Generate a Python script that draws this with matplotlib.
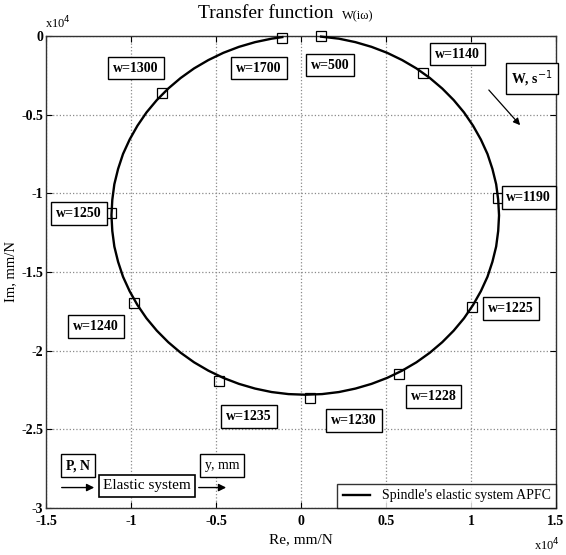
import matplotlib
matplotlib.use("Agg")
import matplotlib.pyplot as plt

plt.rcParams['font.family'] = ['Liberation Serif', 'DejaVu Serif']

# APFC curve of the spindle's elastic system (Re, Im in units of 1e-4 mm/N),
# traced clockwise from w=500 to w=1700
curve_re = [0.118, 0.223, 0.320, 0.415, 0.507, 0.595, 0.679, 0.758, 0.831, 0.898,
            0.959, 1.012, 1.058, 1.097, 1.126, 1.148, 1.160, 1.165, 1.160, 1.148,
            1.126, 1.097, 1.058, 1.012, 0.959, 0.898, 0.831, 0.758, 0.679, 0.595,
            0.507, 0.415, 0.320, 0.223, 0.124, 0.025, -0.074, -0.173, -0.270, -0.365,
            -0.457, -0.545, -0.629, -0.708, -0.781, -0.848, -0.909, -0.962, -1.008, -1.047,
            -1.076, -1.098, -1.110, -1.115, -1.110, -1.098, -1.076, -1.047, -1.008, -0.962,
            -0.909, -0.848, -0.781, -0.708, -0.629, -0.545, -0.457, -0.365, -0.270, -0.173,
            -0.110]
curve_im = [-0.004, -0.017, -0.039, -0.069, -0.107, -0.153, -0.206, -0.267, -0.334, -0.407,
            -0.486, -0.570, -0.658, -0.750, -0.845, -0.942, -1.041, -1.140, -1.239, -1.338,
            -1.435, -1.530, -1.622, -1.710, -1.794, -1.873, -1.946, -2.013, -2.074, -2.127,
            -2.173, -2.211, -2.241, -2.263, -2.276, -2.280, -2.276, -2.263, -2.241, -2.211,
            -2.173, -2.127, -2.074, -2.013, -1.946, -1.873, -1.794, -1.710, -1.622, -1.530,
            -1.435, -1.338, -1.239, -1.140, -1.041, -0.942, -0.845, -0.750, -0.658, -0.570,
            -0.486, -0.407, -0.334, -0.267, -0.206, -0.153, -0.107, -0.069, -0.039, -0.017,
            -0.007]

# Frequency markers along the curve
freqs = [500, 1140, 1190, 1225, 1228, 1230, 1235, 1240, 1250, 1300, 1700]
mark_re = [0.118, 0.72, 1.16, 1.006, 0.576, 0.053, -0.482, -0.982, -1.118, -0.818, -0.11]
mark_im = [0.0, -0.235, -1.03, -1.72, -2.147, -2.30, -2.19, -1.70, -1.127, -0.363, -0.01]
label_re = [0.17, 0.92, 1.34, 1.235, 0.78, 0.312, -0.306, -1.206, -1.306, -0.97, -0.247]
label_im = [-0.185, -0.115, -1.025, -1.73, -2.29, -2.446, -2.42, -1.847, -1.127, -0.204, -0.204]

x_ticks = [-1.5, -1, -0.5, 0, 0.5, 1, 1.5]
x_tick_labels = ['-1.5', '-1', '-0.5', '0', '0.5', '1', '1.5']
y_ticks = [0, -0.5, -1, -1.5, -2, -2.5, -3]
y_tick_labels = ['0', '-0.5', '-1', '-1.5', '-2', '-2.5', '-3']

fig = plt.figure(figsize=(5.66, 5.55), dpi=100)
ax = fig.add_axes([46 / 566, 47 / 555, 510 / 566, 472 / 555])

ax.plot(curve_re, curve_im, color='black', lw=1.7, label="Spindle's elastic system APFC",
        clip_on=False, zorder=3)
ax.plot(mark_re, mark_im, linestyle='none', marker='s', markersize=6.5,
        markerfacecolor='none', markeredgecolor='black', markeredgewidth=0.9,
        clip_on=False, zorder=4)

box = dict(boxstyle='square,pad=0.35', facecolor='white', edgecolor='black', lw=1.0)
for f, lx, ly in zip(freqs, label_re, label_im):
    ax.text(lx, ly, f'w={f}', fontsize=10, fontweight='bold', ha='center', va='center',
            bbox=box, zorder=5)

# Direction of increasing frequency
ax.text(1.36, -0.27, 'W, s$^{-1}$', fontsize=10, fontweight='bold', ha='center',
        va='center', bbox=box, zorder=5)
ax.annotate('', xy=(1.30, -0.58), xytext=(1.094, -0.33),
            arrowprops=dict(arrowstyle='-|>', color='black', lw=0.9, mutation_scale=10))

# Block diagram of the elastic system
ax.text(-1.31, -2.73, 'P, N', fontsize=10, fontweight='bold', ha='center', va='center',
        bbox=box, zorder=5)
ax.text(-0.906, -2.86, 'Elastic system', fontsize=11, ha='center', va='center',
        bbox=dict(boxstyle='square,pad=0.3', facecolor='white', edgecolor='black', lw=1.2),
        zorder=5)
ax.text(-0.465, -2.73, 'y, mm', fontsize=10, ha='center', va='center', bbox=box, zorder=5)
arrow = dict(arrowstyle='-|>', color='black', lw=1.0, mutation_scale=11)
ax.annotate('', xy=(-1.20, -2.87), xytext=(-1.424, -2.87), arrowprops=arrow)
ax.annotate('', xy=(-0.424, -2.87), xytext=(-0.618, -2.87), arrowprops=arrow)

ax.set_xlim(-1.5, 1.5)
ax.set_ylim(-3, 0)
ax.set_xticks(x_ticks)
ax.set_xticklabels(x_tick_labels, fontsize=10, fontweight='bold')
ax.set_yticks(y_ticks)
ax.set_yticklabels(y_tick_labels, fontsize=10, fontweight='bold')
ax.tick_params(direction='in', top=True, right=True, length=4, width=0.8)
ax.tick_params(axis='x', pad=5)
ax.tick_params(axis='y', pad=2)
ax.grid(True, linestyle=':', color='#8a8a8a', lw=0.9)
for s in ax.spines.values():
    s.set_linewidth(1.0)
    s.set_color('#333333')

ax.set_xlabel('Re, mm/N', fontsize=11, labelpad=4)
ax.set_ylabel('Im, mm/N', fontsize=10.5, labelpad=3)

# Exponent markers of the axes
fig.text(45 / 566, 1 - 23 / 555, 'x10$^4$', fontsize=9, ha='left', va='center')
fig.text(547 / 566, 1 - 545 / 555, 'x10$^4$', fontsize=9, ha='center', va='center')

# Title with the transfer function symbol
fig.text(266 / 566, 1 - 14 / 555, 'Transfer function', fontsize=14, ha='center', va='center')
fig.text(342 / 566, 1 - 16 / 555, 'W(iω)', fontsize=9, ha='left', va='center')

leg = ax.legend(loc='lower right', fontsize=10, frameon=True, fancybox=False,
                borderaxespad=0.0, handlelength=2.0, borderpad=0.4)
leg.get_frame().set_edgecolor('black')
leg.get_frame().set_linewidth(1.0)

fig.savefig('out.png', dpi=100)
